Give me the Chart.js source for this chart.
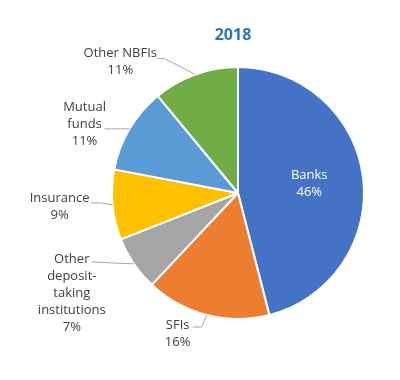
<!DOCTYPE html>
<html>
<head>
<meta charset="utf-8">
<script src="https://cdn.jsdelivr.net/npm/chart.js@4"></script>
<style>
  html, body { margin: 0; padding: 0; background: #ffffff; }
  #wrap { width: 400px; height: 380px; position: relative; }
</style>
</head>
<body>
<div id="wrap"><canvas id="c" width="400" height="380"></canvas></div>
<script>
// ---- data ----
const chartTitle = '2018';
const categories = ['Banks', 'SFIs', 'Other deposit-taking institutions', 'Insurance', 'Mutual funds', 'Other NBFIs'];
const shares = [46, 16, 7, 9, 11, 11];
const wrappedNames = [['Banks'], ['SFIs'], ['Other', 'deposit-', 'taking', 'institutions'], ['Insurance'], ['Mutual', 'funds'], ['Other NBFIs']];
const sliceColors = ['#4472C4', '#ED7D31', '#A5A5A5', '#FFC000', '#5B9BD5', '#70AD47'];

// ---- label layout (offsets from the slice's outer mid-point) ----
const labelLayout = [
  { inside: true, frac: 0.57 },
  { text: [-29, 10], attach: [-14, 12], elbow: [-5, 12] },
  { text: [-62, -5], attach: [-42, -2], elbow: [-24, -1] },
  { text: [-53, -7], attach: [-22, -2], elbow: [-13, -2] },
  { text: [-45, -22], attach: [-25, 0], elbow: [-18, 0] },
  { text: [-75, -21], attach: [-38, -16], elbow: [-31, -16] }
];

const FONT = '13px "Open Sans", "Liberation Sans", Arial, sans-serif';
const LINE_H = 17;

const labelPlugin = {
  id: 'pieLabels',
  afterDatasetsDraw(chart) {
    const ctx = chart.ctx;
    const meta = chart.getDatasetMeta(0);
    ctx.save();
    const ca = chart.chartArea;
    ctx.font = 'bold 16px "Open Sans", "Liberation Sans", Arial, sans-serif';
    ctx.fillStyle = '#2E75B6';
    ctx.textAlign = 'center';
    ctx.textBaseline = 'middle';
    ctx.fillText(chartTitle, (ca.left + ca.right) / 2 - 5, 35);

    meta.data.forEach((arc, i) => {
      const p = arc.getProps(['x', 'y', 'startAngle', 'endAngle', 'outerRadius'], true);
      const mid = (p.startAngle + p.endAngle) / 2;
      const lines = wrappedNames[i].concat([shares[i] + '%']);
      const lay = labelLayout[i];
      ctx.font = FONT;
      ctx.textAlign = 'center';
      ctx.textBaseline = 'middle';
      if (lay.inside) {
        const cx = p.x + Math.cos(mid) * p.outerRadius * lay.frac;
        const cy = p.y + Math.sin(mid) * p.outerRadius * lay.frac;
        ctx.fillStyle = '#ffffff';
        const h = (lines.length - 1) * LINE_H;
        lines.forEach((t, k) => ctx.fillText(t, cx, cy - h / 2 + k * LINE_H));
        return;
      }
      const ex = p.x + Math.cos(mid) * p.outerRadius;
      const ey = p.y + Math.sin(mid) * p.outerRadius;
      ctx.strokeStyle = '#A6A6A6';
      ctx.lineWidth = 1;
      ctx.beginPath();
      ctx.moveTo(ex + lay.attach[0], ey + lay.attach[1]);
      ctx.lineTo(ex + lay.elbow[0], ey + lay.elbow[1]);
      ctx.lineTo(ex, ey);
      ctx.stroke();
      ctx.fillStyle = '#404040';
      const tx = ex + lay.text[0];
      const ty = ey + lay.text[1];
      lines.forEach((t, k) => ctx.fillText(t, tx, ty + k * LINE_H));
    });
    ctx.restore();
  }
};

new Chart(document.getElementById('c'), {
  type: 'pie',
  data: {
    labels: categories,
    datasets: [{
      data: shares,
      backgroundColor: sliceColors,
      borderColor: '#ffffff',
      borderWidth: 2
    }]
  },
  options: {
    responsive: false,
    animation: false,
    layout: { padding: { left: 111, right: 35, top: 66, bottom: 60 } },
    plugins: {
      legend: { display: false },
      tooltip: { enabled: false },
      title: { display: false }
    },
    events: []
  },
  plugins: [labelPlugin]
});
</script>
</body>
</html>
